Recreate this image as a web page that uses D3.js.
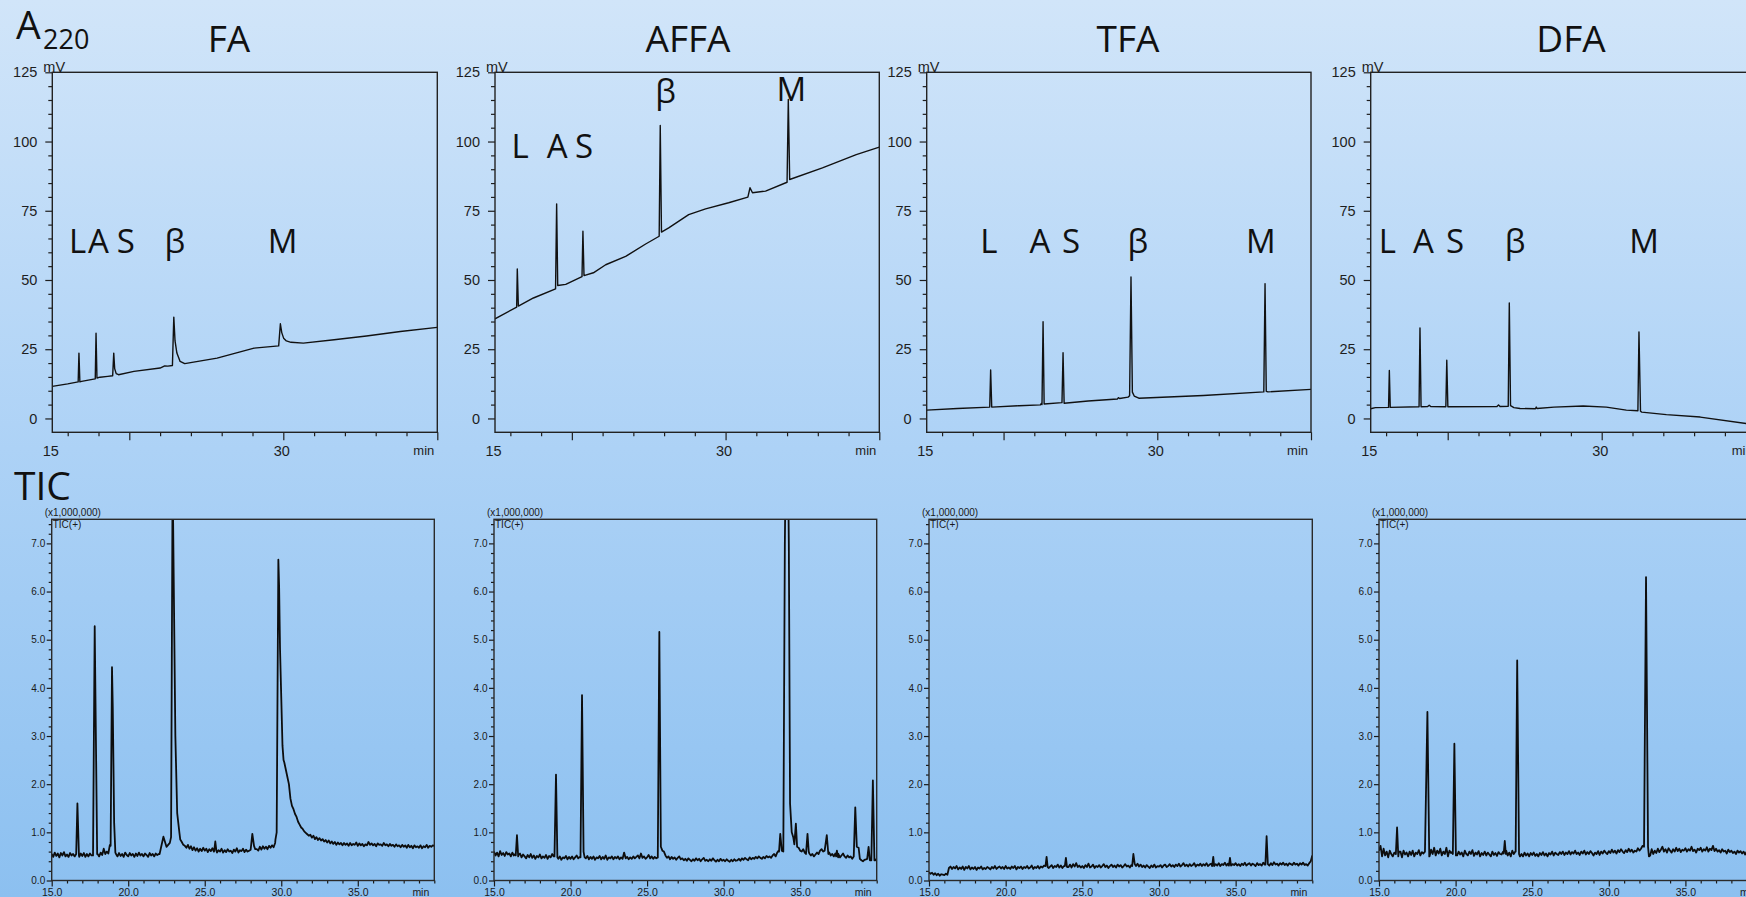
<!DOCTYPE html>
<html><head><meta charset="utf-8">
<script src="https://cdn.jsdelivr.net/npm/d3@7"></script>
<style>html,body{margin:0;padding:0;overflow:hidden;background:#aed2f5}svg{display:block}</style>
</head><body>
<svg id="c" width="1746" height="897"></svg>
<script>
// ---------------- DATA ----------------
const panelTitles = ["FA", "AFFA", "TFA", "DFA"];
const peakNames = ["L", "A", "S", "β", "M"];
const a220Ticks = [0, 25, 50, 75, 100, 125];
const a220TimeLabels = [15, 30];
const ticTicks = [0, 1, 2, 3, 4, 5, 6, 7];
const ticTimeLabels = [15, 20, 25, 30, 35];

// A220 traces: [time (min), signal (mV)]
const faA220 = [[15,11.6],[16.0,12.5],[16.68,13.2],[16.73,23.6],[16.79,13.2],[16.9,13.4],[17.6,14.1],[17.79,14.3],[17.84,30.8],[17.9,14.6],[18.1,14.9],[18.6,15.2],[18.92,15.4],[18.99,23.6],[19.05,18],[19.15,16.2],[19.3,15.8],[20.3,17],[22.0,18.2],[22.3,19],[22.5,18.9],[22.8,19.1],[22.89,36.6],[22.97,28],[23.09,23.6],[23.3,20.6],[23.6,19.8],[25.7,21.8],[28.1,25.4],[29.7,26.2],[29.81,34.2],[29.9,31],[30.02,29],[30.2,28],[30.5,27.5],[31.3,27.2],[33.3,28.4],[35.4,29.8],[37.6,31.4],[40,32.9]];
const affaA220 = [[15,36],[16.41,40.2],[16.45,54],[16.52,40.6],[17.5,43.5],[18.94,46.8],[19.01,77.5],[19.08,48],[19.6,48.4],[20.66,51.2],[20.72,67.6],[20.79,51.6],[21.4,52.6],[22.2,55.5],[23.5,58.5],[24.8,63],[25.68,65.8],[25.75,105.8],[25.83,67.3],[26.3,68.8],[27.6,73.6],[28.7,75.7],[30.2,77.9],[31.45,79.9],[31.59,83.3],[31.75,81.5],[32.6,82.1],[34.0,85.3],[34.08,115.2],[34.17,86.3],[36.3,90.5],[38.5,95.3],[40,98]];
const tfaA220 = [[15,3],[17,3.6],[19.1,4.1],[19.16,17.5],[19.23,4.1],[21,4.6],[22.4,4.9],[22.45,5.4],[22.5,5.0],[22.57,34.9],[22.64,5.2],[23.8,5.7],[23.87,23.7],[23.94,5.5],[25.5,6.3],[27.4,7.0],[27.47,7.5],[27.55,7.2],[28.1,7.7],[28.2,8.2],[28.29,51.1],[28.38,9.5],[28.5,8.1],[28.8,7.3],[33,8.3],[36.93,9.6],[37.01,48.7],[37.09,9.8],[37.2,9.6],[40,10.5]];
const dfaA220 = [[15,3.5],[15.3,3.9],[16.16,4.0],[16.21,17.3],[16.27,4.0],[18.14,4.2],[18.2,32.7],[18.27,4.2],[18.7,4.3],[18.8,4.8],[18.9,4.3],[19.88,4.2],[19.94,21],[20.01,4.2],[23.2,4.3],[23.3,4.9],[23.4,4.3],[23.93,4.4],[24.0,41.7],[24.08,4.6],[24.3,3.9],[24.7,3.6],[25.7,3.5],[25.75,4.1],[25.8,3.6],[26.9,4.1],[28.8,4.5],[30.3,4.1],[31.6,3.0],[32.35,2.8],[32.42,31.2],[32.52,2.6],[32.6,2.3],[34.2,1.4],[36.4,0.5],[40,-2.3]];

// Peak label anchors: time (min) and level (mV) for L, A, S, β, M
const faLabelTimes = [16.64, 17.99, 19.77, 22.95, 29.95];
const faLabelLevels = [59.7, 59.7, 59.7, 59.7, 59.7];
const affaLabelTimes = [16.63, 19.04, 20.8, 26.1, 34.28];
const affaLabelLevels = [94.1, 94.1, 94.1, 114, 114.6];
const tfaLabelTimes = [19.05, 22.37, 24.39, 28.73, 36.73];
const tfaLabelLevels = [59.9, 59.9, 59.9, 59.9, 59.9];
const dfaLabelTimes = [16.08, 18.42, 20.47, 24.37, 32.75];
const dfaLabelLevels = [59.7, 59.7, 59.7, 59.7, 59.7];

// TIC baselines (x1,000,000), read every 0.1 min from 15.0 to 40.0 (one row per minute)
const faTicBase = [
 0.55,0.49,0.58,0.51,0.56,0.48,0.57,0.52,0.59,0.50,
 0.54,0.49,0.57,0.52,0.55,0.50,0.58,0.53,0.49,0.56,
 0.51,0.57,0.49,0.55,0.50,0.56,0.52,0.55,0.55,0.55,
 0.55,0.50,0.58,0.53,0.66,0.55,0.60,0.56,0.74,0.70,
 0.60,0.58,0.55,0.50,0.57,0.51,0.55,0.49,0.58,0.53,
 0.50,0.57,0.52,0.55,0.49,0.56,0.51,0.58,0.52,0.55,
 0.50,0.56,0.53,0.49,0.57,0.52,0.55,0.50,0.56,0.53,
 0.55,0.60,0.80,0.90,0.80,0.70,0.74,0.78,0.85,1.50,
 2.00,1.50,1.00,0.95,0.85,0.80,0.74,0.72,0.68,0.74,
 0.66,0.71,0.63,0.69,0.62,0.67,0.60,0.66,0.61,0.68,
 0.62,0.66,0.59,0.65,0.61,0.67,0.60,0.64,0.58,0.63,
 0.60,0.66,0.58,0.63,0.59,0.65,0.60,0.62,0.57,0.64,
 0.60,0.67,0.58,0.63,0.61,0.66,0.59,0.64,0.60,0.62,
 0.63,0.70,0.90,0.70,0.65,0.62,0.70,0.64,0.71,0.66,
 0.70,0.65,0.72,0.68,0.73,0.69,0.78,0.85,0.90,1.00,
 3.50,2.80,2.45,2.30,2.15,2.00,1.70,1.55,1.48,1.38,
 1.32,1.22,1.16,1.10,1.07,1.02,0.99,0.96,0.93,0.95,
 0.89,0.93,0.86,0.90,0.84,0.88,0.83,0.86,0.81,0.84,
 0.79,0.83,0.77,0.81,0.76,0.80,0.74,0.79,0.75,0.78,
 0.73,0.78,0.74,0.77,0.72,0.78,0.73,0.76,0.74,0.79,
 0.72,0.77,0.73,0.76,0.71,0.75,0.73,0.80,0.74,0.77,
 0.73,0.76,0.71,0.77,0.74,0.75,0.72,0.78,0.73,0.75,
 0.71,0.76,0.72,0.74,0.70,0.75,0.71,0.73,0.69,0.74,
 0.70,0.73,0.68,0.74,0.69,0.72,0.67,0.73,0.69,0.71,
 0.68,0.73,0.67,0.71,0.69,0.74,0.68,0.72,0.70,0.73,
 0.72];
const faTicPeaks = [
 [[16.6,0.55],[16.68,1.6],[16.78,0.52]],
 [[17.7,0.52],[17.81,5.28],[17.97,0.55]],
 [[18.85,0.72],[18.94,4.43],[18.99,3.6],[19.08,1.2],[19.16,0.58]],
 [[22.05,0.55],[22.3,0.91],[22.5,0.7],[22.72,0.78],[22.8,0.9],[22.9,8.5],[23.08,3.0],[23.2,1.4],[23.35,0.98]],
 [[25.62,0.62],[25.69,0.81],[25.76,0.62]],
 [[28.0,0.64],[28.11,0.97],[28.22,0.72],[28.3,0.65]],
 [[29.62,0.85],[29.7,1.0],[29.81,6.66],[29.86,6.1],[29.92,4.8],[30.0,3.8],[30.08,2.8],[30.15,2.5]]
];
const affaTicBase = [
 0.60,0.52,0.58,0.50,0.61,0.53,0.57,0.51,0.59,0.54,
 0.56,0.50,0.58,0.52,0.55,0.50,0.53,0.56,0.48,0.54,
 0.50,0.46,0.53,0.48,0.55,0.47,0.52,0.45,0.51,0.48,
 0.54,0.46,0.50,0.47,0.53,0.45,0.51,0.48,0.55,0.50,
 0.50,0.47,0.45,0.50,0.43,0.48,0.46,0.51,0.44,0.49,
 0.45,0.50,0.44,0.48,0.52,0.46,0.49,0.45,0.50,0.53,
 0.46,0.51,0.44,0.49,0.45,0.50,0.43,0.48,0.46,0.51,
 0.44,0.49,0.45,0.52,0.43,0.48,0.46,0.50,0.44,0.49,
 0.46,0.50,0.44,0.48,0.45,0.58,0.46,0.49,0.44,0.48,
 0.45,0.50,0.46,0.49,0.52,0.46,0.56,0.47,0.50,0.45,
 0.48,0.53,0.46,0.50,0.45,0.49,0.46,0.52,0.50,0.50,
 0.55,0.60,0.52,0.47,0.50,0.44,0.49,0.45,0.48,0.43,
 0.47,0.50,0.44,0.46,0.42,0.45,0.41,0.46,0.43,0.40,
 0.44,0.41,0.46,0.42,0.45,0.40,0.44,0.47,0.41,0.43,
 0.40,0.44,0.41,0.46,0.42,0.39,0.43,0.40,0.45,0.41,
 0.43,0.40,0.44,0.41,0.39,0.43,0.40,0.44,0.41,0.42,
 0.45,0.41,0.46,0.43,0.47,0.44,0.42,0.48,0.44,0.47,
 0.45,0.49,0.46,0.50,0.47,0.45,0.49,0.46,0.51,0.48,
 0.50,0.47,0.52,0.55,0.50,0.58,0.62,0.60,0.65,0.70,
 1.00,1.00,1.00,1.00,1.00,1.00,1.00,1.00,0.70,0.68,
 0.62,0.60,0.65,0.58,0.55,0.60,0.56,0.52,0.55,0.50,
 0.54,0.58,0.55,0.62,0.65,0.60,0.58,0.62,0.55,0.58,
 0.52,0.55,0.50,0.56,0.50,0.55,0.48,0.52,0.56,0.50,
 0.47,0.52,0.48,0.50,0.45,0.50,0.47,0.50,0.45,0.48,
 0.42,0.40,0.43,0.44,0.42,0.46,0.45,0.45,0.45,0.42,
 0.45];
const affaTicPeaks = [
 [[16.42,0.52],[16.5,0.94],[16.58,0.5]],
 [[18.95,0.5],[19.05,2.2],[19.14,0.48]],
 [[20.65,0.48],[20.75,3.85],[20.85,0.6],[20.92,0.48]],
 [[25.7,0.48],[25.8,5.16],[25.9,0.7],[26.0,0.62]],
 [[33.62,0.6],[33.7,0.97],[33.8,0.62],[33.9,0.6],[34.0,7.0],[34.08,9.5],[34.18,9.5],[34.26,7.0],[34.34,1.6],[34.45,1.0],[34.55,0.9],[34.62,0.75],[34.72,1.18],[34.8,0.7]],
 [[35.38,0.55],[35.48,0.97],[35.56,0.6]],
 [[36.6,0.62],[36.74,0.94],[36.84,0.55]],
 [[37.35,0.5],[37.4,0.62],[37.48,0.48]],
 [[38.5,0.5],[38.6,1.52],[38.7,0.7],[38.82,0.68],[38.9,0.45]],
 [[39.38,0.45],[39.47,0.7],[39.55,0.42],[39.65,0.42],[39.75,2.08],[39.85,0.42]]
];
const tfaTicBase = [
 0.17,0.14,0.16,0.12,0.15,0.11,0.14,0.10,0.13,0.12,
 0.11,0.14,0.12,0.26,0.29,0.24,0.28,0.25,0.30,0.23,
 0.27,0.24,0.29,0.22,0.28,0.25,0.30,0.23,0.27,0.24,
 0.28,0.22,0.27,0.25,0.29,0.23,0.26,0.24,0.28,0.26,
 0.23,0.28,0.25,0.30,0.24,0.27,0.29,0.25,0.28,0.24,
 0.30,0.25,0.27,0.24,0.29,0.26,0.30,0.23,0.28,0.26,
 0.29,0.24,0.28,0.26,0.30,0.25,0.27,0.31,0.24,0.28,
 0.26,0.30,0.25,0.29,0.27,0.31,0.30,0.30,0.26,0.29,
 0.32,0.26,0.30,0.28,0.33,0.27,0.31,0.26,0.30,0.30,
 0.30,0.28,0.33,0.27,0.34,0.29,0.36,0.28,0.31,0.27,
 0.30,0.26,0.32,0.28,0.35,0.27,0.29,0.33,0.26,0.30,
 0.28,0.32,0.27,0.30,0.34,0.28,0.31,0.26,0.30,0.33,
 0.28,0.31,0.27,0.33,0.29,0.32,0.27,0.30,0.34,0.29,
 0.31,0.27,0.32,0.30,0.30,0.30,0.35,0.29,0.33,0.28,
 0.31,0.27,0.32,0.29,0.26,0.31,0.28,0.33,0.27,0.30,
 0.29,0.32,0.27,0.31,0.33,0.28,0.30,0.34,0.29,0.32,
 0.28,0.33,0.30,0.35,0.29,0.32,0.36,0.30,0.33,0.29,
 0.34,0.30,0.32,0.36,0.29,0.33,0.31,0.35,0.30,0.34,
 0.31,0.36,0.30,0.33,0.35,0.30,0.30,0.34,0.31,0.36,
 0.30,0.34,0.32,0.37,0.31,0.35,0.30,0.30,0.34,0.32,
 0.36,0.31,0.34,0.30,0.35,0.32,0.37,0.31,0.34,0.36,
 0.31,0.35,0.33,0.30,0.36,0.32,0.34,0.31,0.37,0.33,
 0.34,0.34,0.31,0.36,0.32,0.38,0.33,0.35,0.31,0.36,
 0.33,0.37,0.32,0.35,0.31,0.36,0.34,0.32,0.37,0.33,
 0.35,0.31,0.36,0.33,0.37,0.32,0.34,0.31,0.36,0.40,
 0.52];
const tfaTicPeaks = [
 [[22.6,0.3],[22.67,0.49],[22.74,0.28]],
 [[23.86,0.3],[23.93,0.47],[24.0,0.28]],
 [[28.25,0.3],[28.33,0.55],[28.42,0.34],[28.5,0.3]],
 [[33.47,0.3],[33.54,0.49],[33.6,0.3]],
 [[34.56,0.31],[34.63,0.47],[34.7,0.31]],
 [[36.94,0.33],[37.02,0.92],[37.1,0.34]]
];
const dfaTicBase = [
 0.62,0.72,0.50,0.66,0.52,0.60,0.48,0.62,0.55,0.50,
 0.58,0.52,0.55,0.60,0.60,0.48,0.62,0.54,0.58,0.50,
 0.60,0.53,0.62,0.50,0.58,0.55,0.63,0.52,0.59,0.56,
 0.60,0.60,0.60,0.50,0.64,0.55,0.68,0.52,0.62,0.56,
 0.66,0.52,0.60,0.55,0.68,0.50,0.62,0.57,0.60,0.65,
 0.55,0.52,0.60,0.54,0.58,0.50,0.62,0.55,0.52,0.60,
 0.55,0.63,0.51,0.58,0.54,0.61,0.50,0.57,0.53,0.60,
 0.52,0.58,0.54,0.50,0.60,0.53,0.57,0.51,0.59,0.55,
 0.54,0.60,0.56,0.62,0.52,0.58,0.50,0.62,0.55,0.60,
 0.60,0.60,0.60,0.55,0.50,0.58,0.52,0.56,0.50,0.57,
 0.53,0.58,0.51,0.55,0.50,0.57,0.53,0.59,0.52,0.56,
 0.50,0.57,0.54,0.60,0.52,0.58,0.55,0.53,0.59,0.55,
 0.60,0.53,0.58,0.55,0.61,0.54,0.59,0.56,0.62,0.55,
 0.58,0.53,0.60,0.56,0.62,0.54,0.59,0.55,0.61,0.57,
 0.52,0.58,0.55,0.61,0.53,0.60,0.56,0.62,0.58,0.55,
 0.61,0.57,0.64,0.58,0.62,0.56,0.63,0.59,0.65,0.60,
 0.57,0.63,0.59,0.66,0.60,0.64,0.58,0.62,0.60,0.67,
 0.62,0.66,0.72,0.70,0.65,0.70,0.70,0.52,0.65,0.55,
 0.62,0.57,0.66,0.59,0.64,0.70,0.60,0.65,0.58,0.67,
 0.62,0.58,0.65,0.60,0.68,0.61,0.66,0.59,0.64,0.62,
 0.67,0.60,0.65,0.62,0.70,0.61,0.64,0.58,0.66,0.63,
 0.68,0.60,0.65,0.62,0.69,0.60,0.66,0.63,0.72,0.61,
 0.66,0.60,0.63,0.58,0.65,0.60,0.62,0.56,0.64,0.59,
 0.62,0.57,0.60,0.55,0.62,0.58,0.61,0.56,0.60,0.54,
 0.60,0.57,0.62,0.55,0.59,0.56,0.60,0.54,0.58,0.56,
 0.57];
const dfaTicPeaks = [
 [[16.1,0.55],[16.18,1.1],[16.26,0.5]],
 [[18.0,0.6],[18.16,3.5],[18.28,0.5]],
 [[19.82,0.55],[19.92,2.84],[20.02,0.52]],
 [[23.14,0.56],[23.21,0.82],[23.28,0.55]],
 [[23.92,0.6],[24.02,4.57],[24.14,0.55],[24.2,0.5]],
 [[32.3,0.7],[32.43,6.3],[32.56,0.7],[32.62,0.5]]
];

// ---------------- LAYOUT ----------------
const W = 1746, H = 897;
const topFrames = [[52.3,437.3],[495,879.3],[926.7,1311],[1370.7,1755.7]];
const topY = [72.3, 432.3];
const botFrames = [[51.7,434.3],[494,876.7],[929,1312.3],[1379,1762]];
const botY = [519.3, 880.5];
const titleX = [229, 688, 1128, 1571];

const a220Sets = [faA220, affaA220, tfaA220, dfaA220];
const labelTimeSets = [faLabelTimes, affaLabelTimes, tfaLabelTimes, dfaLabelTimes];
const labelLevelSets = [faLabelLevels, affaLabelLevels, tfaLabelLevels, dfaLabelLevels];
const ticBaseSets = [faTicBase, affaTicBase, tfaTicBase, dfaTicBase];
const ticPeakSets = [faTicPeaks, affaTicPeaks, tfaTicPeaks, dfaTicPeaks];

const svg = d3.select("#c");
const defs = svg.append("defs");
const grad = defs.append("linearGradient").attr("id","bg").attr("x1",0).attr("y1",0).attr("x2",0).attr("y2",1);
grad.append("stop").attr("offset","0%").attr("stop-color","#d1e5f9");
grad.append("stop").attr("offset","50%").attr("stop-color","#add2f6");
grad.append("stop").attr("offset","100%").attr("stop-color","#8cc0f0");
svg.append("rect").attr("width",W).attr("height",H).attr("fill","url(#bg)");

const AX_FONT = "'Liberation Sans', Arial, sans-serif";
const BIG_FONT = "'Open Sans', 'Noto Sans', sans-serif";

function styleAxis(g, fs, col) {
  g.select(".domain").remove();
  g.selectAll(".tick line").attr("stroke", col).attr("stroke-width", 1.2);
  g.selectAll(".tick text").attr("font-family", AX_FONT).attr("font-size", fs).attr("fill", col);
}

function ticSeries(base, peaks) {
  const step = 25 / (base.length - 1);
  let pts = base.map((v, i) => [15 + i * step, v]);
  peaks.forEach(p => {
    const a = p[0][0] - 1e-6, b = p[p.length - 1][0] + 1e-6;
    pts = pts.filter(d => d[0] < a || d[0] > b).concat(p);
  });
  pts.sort((a, b) => a[0] - b[0]);
  return pts;
}

// ---------------- ROW LABELS & TITLES ----------------
svg.append("text").attr("x",16).attr("y",39).attr("font-family",BIG_FONT).attr("font-size",39).attr("fill","#111").text("A");
svg.append("text").attr("x",43).attr("y",48.5).attr("font-family",BIG_FONT).attr("font-size",27).attr("fill","#111").text("220");
svg.append("text").attr("x",14).attr("y",500).attr("font-family",BIG_FONT).attr("font-size",39).attr("fill","#111").text("TIC");

panelTitles.forEach((t, i) => {
  svg.append("text").attr("x", titleX[i]).attr("y", 51.7).attr("text-anchor","middle")
    .attr("font-family", BIG_FONT).attr("font-size", 37).attr("fill","#111").text(t);
});

// ---------------- A220 ROW ----------------
topFrames.forEach((fr, i) => {
  const [x0, x1] = fr;
  const x = d3.scaleLinear().domain([15, 40]).range([x0, x1]);
  const y = d3.scaleLinear().domain([-5, 125]).range([topY[1], topY[0]]);
  const g = svg.append("g");
  const cid = "clipT" + i;
  defs.append("clipPath").attr("id", cid).append("rect")
    .attr("x", x0).attr("y", topY[0]).attr("width", x1 - x0).attr("height", topY[1] - topY[0]);

  const ya = g.append("g").attr("transform", `translate(${x0},0)`)
    .call(d3.axisLeft(y).tickValues(a220Ticks).tickSize(7).tickPadding(8));
  styleAxis(ya, 14.5, "#1e1e1e");
  const yb = g.append("g").attr("transform", `translate(${x0},0)`)
    .call(d3.axisLeft(y).tickValues(d3.range(5, 125, 5).filter(v => v % 25 !== 0)).tickSize(4).tickFormat(""));
  styleAxis(yb, 14.5, "#1e1e1e");

  const xa = g.append("g").attr("transform", `translate(0,${topY[1]})`)
    .call(d3.axisBottom(x).tickValues([20, 30, 40]).tickSize(8).tickFormat(""));
  styleAxis(xa, 14.5, "#1e1e1e");
  const xb = g.append("g").attr("transform", `translate(0,${topY[1]})`)
    .call(d3.axisBottom(x).tickValues(d3.range(16, 40, 2).filter(v => v % 10 !== 0)).tickSize(4).tickFormat(""));
  styleAxis(xb, 14.5, "#1e1e1e");
  const xl = g.append("g").attr("transform", `translate(-2,${topY[1]})`)
    .call(d3.axisBottom(x).tickValues(a220TimeLabels).tickSize(0).tickPadding(13).tickFormat(d3.format("d")));
  styleAxis(xl, 14.5, "#1e1e1e");
  g.append("text").attr("x", x1 - 3).attr("y", 455).attr("text-anchor","end")
    .attr("font-family", AX_FONT).attr("font-size", 13).attr("fill","#1e1e1e").text("min");
  g.append("text").attr("x", x0 - 9).attr("y", topY[0] - 0.5)
    .attr("font-family", AX_FONT).attr("font-size", 14.5).attr("fill","#1e1e1e").text("mV");

  const line = d3.line().x(d => x(d[0])).y(d => y(d[1]));
  g.append("path").datum(a220Sets[i]).attr("clip-path", `url(#${cid})`)
    .attr("d", line).attr("fill","none").attr("stroke","#111").attr("stroke-width",1.4).attr("stroke-linejoin","round");

  g.append("rect").attr("x", x0).attr("y", topY[0]).attr("width", x1 - x0).attr("height", topY[1] - topY[0])
    .attr("fill","none").attr("stroke","#222").attr("stroke-width",1.4);

  peakNames.forEach((n, k) => {
    g.append("text").attr("x", x(labelTimeSets[i][k])).attr("y", y(labelLevelSets[i][k]))
      .attr("text-anchor","middle").attr("font-family", BIG_FONT).attr("font-size", 33)
      .attr("fill","#111").text(n);
  });
});

// ---------------- TIC ROW ----------------
botFrames.forEach((fr, i) => {
  const [x0, x1] = fr;
  const x = d3.scaleLinear().domain([15, 40]).range([x0, x1]);
  const y = d3.scaleLinear().domain([0, 7.5]).range([botY[1], botY[0]]);
  const g = svg.append("g");
  const cid = "clipB" + i;
  defs.append("clipPath").attr("id", cid).append("rect")
    .attr("x", x0).attr("y", botY[0]).attr("width", x1 - x0).attr("height", botY[1] - botY[0]);

  const ya = g.append("g").attr("transform", `translate(${x0},0)`)
    .call(d3.axisLeft(y).tickValues(ticTicks).tickSize(5).tickPadding(1.5).tickFormat(d3.format(".1f")));
  styleAxis(ya, 10, "#1a1a1a");
  const yb = g.append("g").attr("transform", `translate(${x0},0)`)
    .call(d3.axisLeft(y).tickValues(d3.range(1, 38).map(v => v / 5).filter(v => Math.abs(v - Math.round(v)) > 1e-6)).tickSize(3).tickFormat(""));
  styleAxis(yb, 10, "#1a1a1a");

  const xa = g.append("g").attr("transform", `translate(0,${botY[1]})`)
    .call(d3.axisBottom(x).tickValues(ticTimeLabels).tickSize(6).tickPadding(2).tickFormat(d3.format(".1f")));
  styleAxis(xa, 10.5, "#1a1a1a");
  const xb = g.append("g").attr("transform", `translate(0,${botY[1]})`)
    .call(d3.axisBottom(x).tickValues(d3.range(16, 41, 1).filter(v => v % 5 !== 0 || v === 40)).tickSize(3).tickFormat(""));
  styleAxis(xb, 10.5, "#1a1a1a");
  g.append("text").attr("x", x1 - 5).attr("y", 896).attr("text-anchor","end")
    .attr("font-family", AX_FONT).attr("font-size", 10.5).attr("fill","#1a1a1a").text("min");
  g.append("text").attr("x", x0 - 7).attr("y", 515.5)
    .attr("font-family", AX_FONT).attr("font-size", 10).attr("fill","#1a1a1a").text("(x1,000,000)");
  g.append("text").attr("x", x0 + 1).attr("y", 527.5)
    .attr("font-family", AX_FONT).attr("font-size", 10).attr("fill","#1a1a1a").text("TIC(+)");

  const line = d3.line().x(d => x(d[0])).y(d => y(d[1]));
  g.append("path").datum(ticSeries(ticBaseSets[i], ticPeakSets[i])).attr("clip-path", `url(#${cid})`)
    .attr("d", line).attr("fill","none").attr("stroke","#0d0d0d").attr("stroke-width",1.8).attr("stroke-linejoin","round");

  g.append("rect").attr("x", x0).attr("y", botY[0]).attr("width", x1 - x0).attr("height", botY[1] - botY[0])
    .attr("fill","none").attr("stroke","#2a2a2a").attr("stroke-width",1.4);
});
</script>
</body></html>
